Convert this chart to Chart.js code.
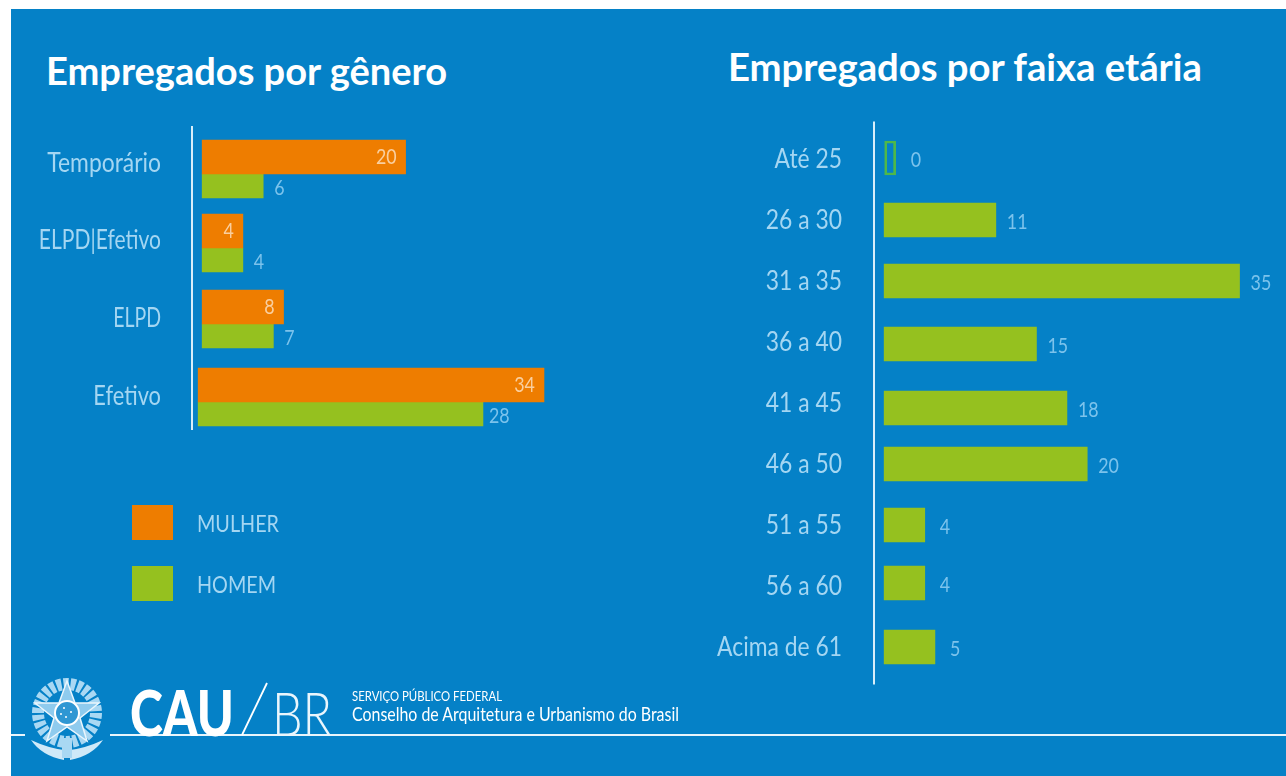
<!DOCTYPE html>
<html lang="pt-BR">
<head>
<meta charset="UTF-8">
<title>Empregados CAU/BR</title>
<script src="https://cdn.jsdelivr.net/npm/chart.js"></script>
<style>
    html, body { margin: 0; padding: 0; background: #fff; overflow: hidden; }
    body { width: 1286px; height: 776px; position: relative; font-family: Lato, "Open Sans", sans-serif; }
    #pagina { position: absolute; inset: 0; filter: blur(0.7px); }
    #fundo { position: absolute; left: 11px; top: 9px; right: 0; bottom: 0; background: #0581c7; }
    canvas { position: absolute; top: 0; }
    .ajusta { position: absolute; white-space: nowrap; transform-origin: left top; }
    .titulo { color: #fff; font-weight: bold; font-size: 38px; line-height: 44px; }
    .legenda { position: absolute; left: 132px; width: 41px; height: 35px; }
    .legenda-txt { color: #a4d6f2; font-size: 23px; line-height: 28px; }
    #linha1, #linha2 { position: absolute; top: 734px; height: 2px; background: #e8f5fc; }
    #linha1 { left: 11px; width: 14px; }
    #linha2 { left: 110px; right: 0; }
    #brasao { position: absolute; left: 28px; top: 676px; }
    #barra { position: absolute; left: 240px; top: 682px; }
</style>
</head>
<body>
<div id="pagina">
<div id="fundo"></div>
<div class="ajusta titulo" data-w="401" style="left:46px;top:48px">Empregados por gênero</div>
<div class="ajusta titulo" data-w="474" style="left:728px;top:44px">Empregados por faixa etária</div>
<canvas id="graficoGenero" width="640" height="776" style="left:0"></canvas>
<canvas id="graficoIdade" width="646" height="776" style="left:640px"></canvas>
<div id="legendas"></div>
<div id="linha1"></div>
<div id="linha2"></div>
<svg id="brasao" width="78" height="86" viewBox="0 0 78 86">
    <circle cx="39" cy="37" r="29" fill="none" stroke="#a9d8f3" stroke-width="12" stroke-dasharray="5 2"/>
    <polygon points="39,5 47,27 71,27 52,42 59,65 39,51 19,65 26,42 7,27 31,27" fill="#8fcbee" stroke="#eaf6fd" stroke-width="1.5"/>
    <circle cx="39" cy="37" r="12" fill="#2f97d3" stroke="#fff" stroke-width="2"/>
    <g fill="#fff"><circle cx="36" cy="32" r="1"/><circle cx="43" cy="36" r="1"/><circle cx="38" cy="41" r="1"/><circle cx="33" cy="38" r="1"/></g>
    <path d="M3 64 Q20 72 36 74 L36 84 Q14 80 3 64 Z M75 64 Q58 72 42 74 L42 84 Q64 80 75 64 Z" fill="#cfe9f8"/>
    <rect x="34" y="62" width="10" height="20" fill="#a9d8f3"/>
</svg>
<div class="ajusta" data-w="104" style="left:130px;top:674px;color:#fff;font-weight:900;font-size:62px;line-height:76px">CAU</div>
<svg id="barra" width="30" height="56"><line x1="2" y1="53" x2="27" y2="1" stroke="#fff" stroke-width="1.8"/></svg>
<div class="ajusta" data-w="60" style="left:272px;top:674px;color:#eaf6fd;font-weight:300;font-size:62px;line-height:76px">BR</div>
<div class="ajusta" data-w="150" style="left:352px;top:688px;color:#fff;font-size:14px;line-height:16px">SERVIÇO PÚBLICO FEDERAL</div>
<div class="ajusta" data-w="327" style="left:352px;top:702px;color:#fff;font-size:19px;line-height:23px">Conselho de Arquitetura e Urbanismo do Brasil</div>
</div>

<script>
    // dados
    const categoriasGenero = ['Temporário', 'ELPD|Efetivo', 'ELPD', 'Efetivo'];
    const mulher = [20, 4, 8, 34];
    const homem = [6, 4, 7, 28];

    const categoriasIdade = ['Até 25', '26 a 30', '31 a 35', '36 a 40', '41 a 45', '46 a 50', '51 a 55', '56 a 60', 'Acima de 61'];
    const empregados = [0, 11, 35, 15, 18, 20, 4, 4, 5];

    const LARANJA = '#ee7d00';
    const VERDE = '#95c11f';
    const FONTE = 'Lato, "Open Sans", sans-serif';

    Chart.defaults.animation = false;
    Chart.defaults.font.family = FONTE;

    // texto comprimido na horizontal, a fonte do original é condensada
    function textoEstreito(c, txt, x, y, alinhamento, escala) {
        c.save();
        c.translate(x, y);
        c.scale(escala, 1);
        c.textAlign = alinhamento;
        c.textBaseline = 'middle';
        c.fillText(txt, 0, 0);
        c.restore();
    }

    // pequenos desvios das barras no original, que não são regulares
    const ajusteBarras = {
        id: 'ajusteBarras',
        afterDatasetsUpdate(chart, args, opts) {
            chart.data.datasets.forEach((d, k) => {
                chart.getDatasetMeta(k).data.forEach((barra, i) => {
                    const dx = opts.dx(i);
                    barra.x += dx;
                    barra.base += dx;
                    barra.y += opts.dy[i];
                });
            });
        }
    };

    // linha do eixo e nomes das categorias
    const eixoVertical = {
        id: 'eixoVertical',
        afterDraw(chart, args, opts) {
            const c = chart.ctx;
            const x = chart.scales.x.getPixelForValue(-1);
            c.save();
            c.strokeStyle = '#d8eefa';
            c.lineWidth = 2;
            c.beginPath();
            c.moveTo(x, chart.chartArea.top + opts.cima);
            c.lineTo(x, chart.chartArea.bottom + opts.baixo);
            c.stroke();
            c.font = '26px ' + FONTE;
            c.fillStyle = '#a4d6f2';
            chart.data.labels.forEach((nome, i) => {
                textoEstreito(c, nome, x + opts.rotuloX, chart.scales.y.getPixelForTick(i) + opts.rotuloY(i), 'right', opts.escala(i));
            });
            c.restore();
        }
    };

    // rótulos de valor: dentro da barra no laranja, fora no verde
    const rotulos = {
        id: 'rotulos',
        afterDatasetsDraw(chart, args, opts) {
            const c = chart.ctx;
            c.save();
            c.font = '21px ' + FONTE;
            chart.data.datasets.forEach((d, k) => {
                chart.getDatasetMeta(k).data.forEach((barra, i) => {
                    if (d.label == 'MULHER') {
                        c.fillStyle = '#f9cf9f';
                        textoEstreito(c, d.data[i], barra.x - 9, barra.y, 'right', 0.85);
                    } else {
                        c.fillStyle = '#7cc3ec';
                        textoEstreito(c, d.data[i], barra.x + opts.folga(i), barra.y + 2, 'left', 0.85);
                    }
                });
            });
            c.restore();
        }
    };

    function eixoCategorias(largura) {
        return {
            afterFit: function (s) { s.width = largura; },
            grid: { display: false },
            border: { display: false },
            ticks: { display: false }
        };
    }

    new Chart(document.getElementById('graficoGenero'), {
        type: 'bar',
        data: {
            labels: categoriasGenero,
            datasets: [
                { label: 'MULHER', data: mulher, backgroundColor: LARANJA, barThickness: 34 },
                { label: 'HOMEM', data: homem, backgroundColor: VERDE, barThickness: 24 }
            ]
        },
        options: {
            indexAxis: 'y',
            responsive: false,
            layout: { padding: { top: 136, bottom: 336, left: 0, right: 31 } },
            scales: {
                x: { display: false, min: -1, max: 40 },
                y: eixoCategorias(192)
            },
            plugins: {
                legend: { display: false },
                tooltip: { enabled: false },
                ajusteBarras: { dx: (i) => i == 3 ? -4 : 0, dy: [0, -2, -2, 0] },
                eixoVertical: {
                    cima: -10, baixo: -10, rotuloX: -31,
                    rotuloY: (i) => [-10, -9, -7, -5][i],
                    escala: (i) => [0.88, 0.81, 0.75, 0.84][i]
                },
                rotulos: { folga: (i) => i == 3 ? 6 : 11 }
            }
        },
        plugins: [ajusteBarras, eixoVertical, rotulos]
    });

    new Chart(document.getElementById('graficoIdade'), {
        type: 'bar',
        data: {
            labels: categoriasIdade,
            datasets: [{
                label: 'Empregados',
                data: empregados,
                barThickness: 34,
                minBarLength: 11,
                borderSkipped: false,
                backgroundColor: (ctx) => empregados[ctx.dataIndex] == 0 ? 'transparent' : VERDE,
                borderColor: (ctx) => empregados[ctx.dataIndex] == 0 ? '#4fb848' : VERDE,
                borderWidth: (ctx) => empregados[ctx.dataIndex] == 0 ? 2 : 0
            }]
        },
        options: {
            indexAxis: 'y',
            responsive: false,
            layout: { padding: { top: 127.5, bottom: 99.5, left: 0, right: 16 } },
            scales: {
                x: { display: false, min: -1, max: 38 },
                y: eixoCategorias(234)
            },
            plugins: {
                legend: { display: false },
                tooltip: { enabled: false },
                ajusteBarras: { dx: (i) => empregados[i] == 0 ? 6 : 0, dy: [0, 1, 1, 3, 6, 1, 1, -2, 1] },
                eixoVertical: { cima: -6, baixo: 8, rotuloX: -32, rotuloY: (i) => 2, escala: (i) => 0.88 },
                rotulos: { folga: (i) => empregados[i] == 0 ? 26 : (empregados[i] < 10 ? 15 : 11) }
            }
        },
        plugins: [ajusteBarras, eixoVertical, rotulos]
    });

    // legenda montada a partir das séries
    const legendas = document.getElementById('legendas');
    [['MULHER', LARANJA, 505, 82], ['HOMEM', VERDE, 566, 79]].forEach(function (item) {
        legendas.innerHTML += `<div class="legenda" style="top:${item[2]}px;background:${item[1]}"></div>`
            + `<div class="ajusta legenda-txt" data-w="${item[3]}" style="left:197px;top:${item[2] + 4}px">${item[0]}</div>`;
    });

    // cada texto é comprimido até a largura que tem no original
    document.querySelectorAll('.ajusta').forEach(function (el) {
        const largura = el.getBoundingClientRect().width;
        el.style.transform = `scaleX(${el.dataset.w / largura})`;
    });
</script>
</body>
</html>
